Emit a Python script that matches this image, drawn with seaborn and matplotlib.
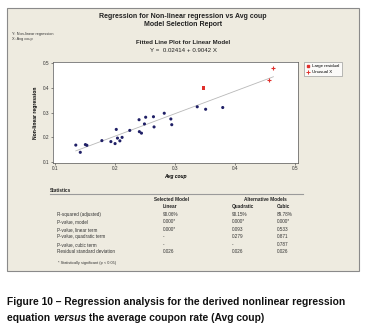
import matplotlib
matplotlib.use('Agg')
import matplotlib.pyplot as plt
import seaborn as sns
import numpy as np
import pandas as pd
from matplotlib.lines import Line2D

# data
avg_coup = [0.1345, 0.142, 0.1505, 0.153, 0.178, 0.193, 0.200, 0.202, 0.204, 0.208,
            0.2117, 0.2245, 0.240, 0.2405, 0.244, 0.249, 0.251, 0.264, 0.265, 0.282,
            0.293, 0.2945, 0.337, 0.351, 0.3795]
nonlin_reg = [0.169, 0.140, 0.171, 0.168, 0.187, 0.183, 0.175, 0.232, 0.197, 0.186,
              0.200, 0.228, 0.271, 0.223, 0.217, 0.254, 0.281, 0.283, 0.242, 0.297,
              0.274, 0.251, 0.323, 0.313, 0.320]
large_resid_x = [0.347]
large_resid_y = [0.398]
unusual_x_x = [0.456, 0.464]
unusual_x_y = [0.431, 0.479]
intercept = 0.02414
slope = 0.9042

stat_rows = ['R-squared (adjusted)', 'P-value, model', 'P-value, linear term',
             'P-value, quadratic term', 'P-value, cubic term', 'Residual standard deviation']
linear_vals = ['90.06%', '0.000*', '0.000*', '-', '-', '0.026']
quad_vals = ['90.15%', '0.000*', '0.093', '0.279', '-', '0.026']
cubic_vals = ['89.78%', '0.000*', '0.533', '0.871', '0.787', '0.026']

W, H = 371, 335
plt.rcParams['font.family'] = ['Liberation Sans', 'DejaVu Sans']
fig = plt.figure(figsize=(W / 100, H / 100), dpi=100)
fig.patch.set_facecolor('white')


def fx(x):
    return x / W


def fy(y):
    return 1 - y / H


# beige report panel (behind the axes)
panel = plt.Rectangle((fx(7), fy(271)), fx(352), 263 / H, transform=fig.transFigure,
                      facecolor='#EEEBE0', edgecolor='#8A8A8A', linewidth=0.8, zorder=-5)
fig.patches.append(panel)

# header texts
fig.text(fx(183), fy(16), 'Regression for Non-linear regression vs Avg coup', ha='center',
         va='center', fontsize=5.0, fontweight='bold', color='#222222')
fig.text(fx(183), fy(25), 'Model Selection Report', ha='center', va='center',
         fontsize=5.0, fontweight='bold', color='#222222')
fig.text(fx(12), fy(34), 'Y: Non-linear regression', ha='left', va='center', fontsize=2.8, color='#333333')
fig.text(fx(12), fy(39), 'X: Avg coup', ha='left', va='center', fontsize=2.8, color='#333333')
fig.text(fx(183), fy(43), 'Fitted Line Plot for Linear Model', ha='center', va='center',
         fontsize=4.4, fontweight='bold', color='#222222')
fig.text(fx(183), fy(50), f'Y =  {intercept:.5f} + {slope:.4f} X', ha='center', va='center',
         fontsize=4.4, color='#222222')

# scatter plot
ax = fig.add_axes([fx(52.7), fy(163), fx(245.3), 101 / H])
ax.set_facecolor('white')
df = pd.DataFrame({'Avg coup': avg_coup, 'Non-linear regression': nonlin_reg})
sns.scatterplot(data=df, x='Avg coup', y='Non-linear regression', ax=ax, color='#1F1F66',
                s=5, edgecolor='none', zorder=3)
xs = np.array([min(avg_coup), max(unusual_x_x)])
ax.plot(xs, intercept + slope * xs, color='#B8B8B8', linewidth=0.6, zorder=2)
sns.scatterplot(x=large_resid_x, y=large_resid_y, ax=ax, color='#E0302C', marker='s',
                s=6, edgecolor='none', zorder=4)
sns.scatterplot(x=unusual_x_x, y=unusual_x_y, ax=ax, color='#E0302C', marker='+',
                s=10, linewidth=0.8, zorder=4)
ax.set_xlim(0.096, 0.505)
ax.set_ylim(0.097, 0.503)
ax.set_xticks([0.1, 0.2, 0.3, 0.4, 0.5])
ax.set_yticks([0.1, 0.2, 0.3, 0.4, 0.5])
ax.set_xticklabels(['0.1', '0.2', '0.3', '0.4', '0.5'])
ax.set_yticklabels(['0.1', '0.2', '0.3', '0.4', '0.5'])
ax.tick_params(labelsize=3.4, length=1.5, width=0.4, pad=1, colors='#333333')
for sp in ax.spines.values():
    sp.set_linewidth(0.5)
    sp.set_color('#555555')
ax.set_xlabel('Avg coup', fontsize=3.6, fontweight='bold', fontstyle='italic', labelpad=2)
ax.set_ylabel('Non-linear regression', fontsize=3.6, fontweight='bold', labelpad=3)

handles = [Line2D([], [], color='#E0302C', marker='s', linestyle='none', markersize=1.6),
           Line2D([], [], color='#E0302C', marker='+', linestyle='none', markersize=2.5,
                  markeredgewidth=0.7)]
leg = fig.legend(handles, ['Large residual', 'Unusual X'], loc='upper left',
                 bbox_to_anchor=(fx(304), fy(62)), fontsize=3.2, frameon=True,
                 fancybox=False, borderpad=0.5, handlelength=0.8, handletextpad=0.6,
                 labelspacing=0.4, borderaxespad=0)
leg.get_frame().set_edgecolor('#888888')
leg.get_frame().set_linewidth(0.5)

# statistics table
fig.text(fx(50), fy(190), 'Statistics', ha='left', va='center', fontsize=3.4,
         fontweight='bold', color='#222222')
fig.add_artist(Line2D([fx(50), fx(303)], [fy(194), fy(194)], color='#9A9A9A', linewidth=0.8))
fig.text(fx(172), fy(200), 'Selected Model', ha='center', va='center', fontsize=3.4,
         fontweight='bold', color='#222222')
fig.text(fx(265), fy(200), 'Alternative Models', ha='center', va='center', fontsize=3.4,
         fontweight='bold', color='#222222')
fig.text(fx(163), fy(206.7), 'Linear', ha='left', va='center', fontsize=3.4,
         fontweight='bold', color='#222222')
fig.text(fx(232), fy(206.7), 'Quadratic', ha='left', va='center', fontsize=3.4,
         fontweight='bold', color='#222222')
fig.text(fx(277), fy(206.7), 'Cubic', ha='left', va='center', fontsize=3.4,
         fontweight='bold', color='#222222')
for i, name in enumerate(stat_rows):
    yy = fy(214.3 + 7.5 * i)
    fig.text(fx(57), yy, name, ha='left', va='center', fontsize=3.3, color='#333333')
    fig.text(fx(163), yy, linear_vals[i], ha='left', va='center', fontsize=3.3, color='#333333')
    fig.text(fx(232), yy, quad_vals[i], ha='left', va='center', fontsize=3.3, color='#333333')
    fig.text(fx(277), yy, cubic_vals[i], ha='left', va='center', fontsize=3.3, color='#333333')
fig.text(fx(58), fy(263), '* Statistically significant (p < 0.05)', ha='left', va='center',
         fontsize=2.8, color='#333333')

# caption below the panel
cap_size = 7.4
fig.text(fx(7), fy(302), 'Figure 10 \u2013 Regression analysis for the derived nonlinear regression',
         ha='left', va='center', fontsize=cap_size, fontweight='bold', color='#111111')
fig.canvas.draw()
renderer = fig.canvas.get_renderer()
x0 = fx(7)
for txt, style in [('equation ', 'normal'), ('versus', 'italic'),
                   (' the average coupon rate (Avg coup)', 'normal')]:
    t = fig.text(x0, fy(318), txt, ha='left', va='center', fontsize=cap_size,
                 fontweight='bold', fontstyle=style, color='#111111')
    bb = t.get_window_extent(renderer)
    x0 = x0 + bb.width / fig.bbox.width

fig.savefig('out.png', dpi=100)
